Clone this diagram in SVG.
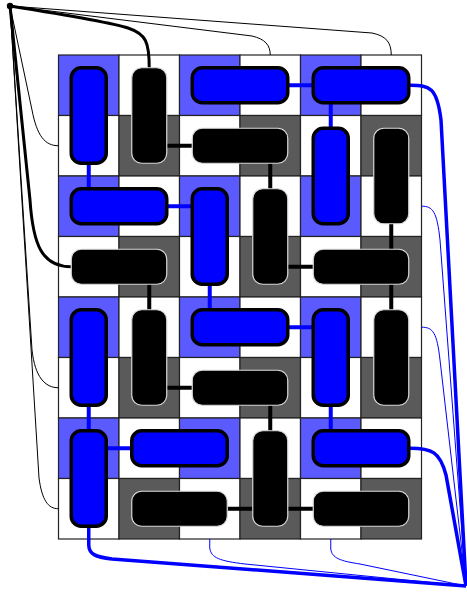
<svg xmlns="http://www.w3.org/2000/svg" width="467" height="592" viewBox="0 0 467 592">
<style>
.cb{fill:#5a5aff;stroke:#222;stroke-width:1.2}
.cw{fill:#fff;stroke:#222;stroke-width:1.2}
.cg{fill:#5a5a5a;stroke:#222;stroke-width:1.2}
.nb{fill:#0000ff;stroke:#000;stroke-width:3.5}
.nk{fill:#000;stroke:#d8d8d8;stroke-width:1.2}
.eb{stroke:#0000ff;stroke-width:4;fill:none}
.ek{stroke:#000;stroke-width:4;fill:none}
.lk{stroke:#000;stroke-width:3;fill:none}
.tk{stroke:#000;stroke-width:1;fill:none}
.lb{stroke:#0000ff;stroke-width:3.5;fill:none}
.tb{stroke:#0000ff;stroke-width:1;fill:none}
</style>
<rect width="467" height="592" fill="#fff"/>
<g id="grid">
<rect class="cb" x="58.5" y="55" width="60.5" height="60.5"/><rect class="cw" x="119" y="55" width="60.5" height="60.5"/><rect class="cb" x="179.5" y="55" width="60.5" height="60.5"/><rect class="cw" x="240" y="55" width="60.5" height="60.5"/><rect class="cb" x="300.5" y="55" width="60.5" height="60.5"/><rect class="cw" x="361" y="55" width="60.5" height="60.5"/>
<rect class="cw" x="58.5" y="115.5" width="60.5" height="60.5"/><rect class="cg" x="119" y="115.5" width="60.5" height="60.5"/><rect class="cw" x="179.5" y="115.5" width="60.5" height="60.5"/><rect class="cg" x="240" y="115.5" width="60.5" height="60.5"/><rect class="cw" x="300.5" y="115.5" width="60.5" height="60.5"/><rect class="cg" x="361" y="115.5" width="60.5" height="60.5"/>
<rect class="cb" x="58.5" y="176" width="60.5" height="60.5"/><rect class="cw" x="119" y="176" width="60.5" height="60.5"/><rect class="cb" x="179.5" y="176" width="60.5" height="60.5"/><rect class="cw" x="240" y="176" width="60.5" height="60.5"/><rect class="cb" x="300.5" y="176" width="60.5" height="60.5"/><rect class="cw" x="361" y="176" width="60.5" height="60.5"/>
<rect class="cw" x="58.5" y="236.5" width="60.5" height="60.5"/><rect class="cg" x="119" y="236.5" width="60.5" height="60.5"/><rect class="cw" x="179.5" y="236.5" width="60.5" height="60.5"/><rect class="cg" x="240" y="236.5" width="60.5" height="60.5"/><rect class="cw" x="300.5" y="236.5" width="60.5" height="60.5"/><rect class="cg" x="361" y="236.5" width="60.5" height="60.5"/>
<rect class="cb" x="58.5" y="297" width="60.5" height="60.5"/><rect class="cw" x="119" y="297" width="60.5" height="60.5"/><rect class="cb" x="179.5" y="297" width="60.5" height="60.5"/><rect class="cw" x="240" y="297" width="60.5" height="60.5"/><rect class="cb" x="300.5" y="297" width="60.5" height="60.5"/><rect class="cw" x="361" y="297" width="60.5" height="60.5"/>
<rect class="cw" x="58.5" y="357.5" width="60.5" height="60.5"/><rect class="cg" x="119" y="357.5" width="60.5" height="60.5"/><rect class="cw" x="179.5" y="357.5" width="60.5" height="60.5"/><rect class="cg" x="240" y="357.5" width="60.5" height="60.5"/><rect class="cw" x="300.5" y="357.5" width="60.5" height="60.5"/><rect class="cg" x="361" y="357.5" width="60.5" height="60.5"/>
<rect class="cb" x="58.5" y="418" width="60.5" height="60.5"/><rect class="cw" x="119" y="418" width="60.5" height="60.5"/><rect class="cb" x="179.5" y="418" width="60.5" height="60.5"/><rect class="cw" x="240" y="418" width="60.5" height="60.5"/><rect class="cb" x="300.5" y="418" width="60.5" height="60.5"/><rect class="cw" x="361" y="418" width="60.5" height="60.5"/>
<rect class="cw" x="58.5" y="478.5" width="60.5" height="60.5"/><rect class="cg" x="119" y="478.5" width="60.5" height="60.5"/><rect class="cw" x="179.5" y="478.5" width="60.5" height="60.5"/><rect class="cg" x="240" y="478.5" width="60.5" height="60.5"/><rect class="cw" x="300.5" y="478.5" width="60.5" height="60.5"/><rect class="cg" x="361" y="478.5" width="60.5" height="60.5"/>
</g>
<g id="connectors">
<path class="eb" d="M88.75,163 V189 M287.75,85.25 H313.25 M330.75,102.75 V128.25 M166.75,206.25 H192.25 M209.75,284.25 V309.75 M287.75,327.25 H313.25 M88.75,405.25 V430.75 M106.25,448.25 H131.75 M330.75,405.25 V430.75"/>
<path class="ek" d="M166.75,145.75 H192.25 M270.25,163.25 V188.75 M149.25,284.25 V309.75 M287.75,266.75 H313.25 M391.25,223.75 V249.25 M391.25,284.25 V309.75 M166.75,387.75 H192.25 M270.25,405.25 V430.75 M287.75,508.75 H313.25 M227.25,508.75 H252.75"/>
<path class="lk" d="M10,6 C60,14 110,22 128,28 C146,34 149.25,42 149.25,68"/>
<path class="lk" d="M10,6 L30,200 C33,245 42,266.75 71.25,266.75"/>
<path class="tk" d="M10,6 L32,110 C37,136 45,145.75 58.5,145.75"/>
<path class="tk" d="M10,6 L32,350 C35,377 45,387.75 58.5,387.75"/>
<path class="tk" d="M10,6 L39,478 C42,500 48,508.75 58.5,508.75"/>
<path class="tk" d="M10,6 L252,36 C265,39 270.25,45 270.25,55"/>
<path class="tk" d="M10,6 L372,33 C386,36 391.25,42 391.25,55"/>
<circle cx="10" cy="6" r="3.2" fill="#000"/>
<path class="lb" d="M408.75,85.25 C430,85 437,87 441,120 L466,586"/>
<path class="lb" d="M408.75,448.25 C432,448 440,452 446,475 L466,586"/>
<path class="lb" d="M88.75,526 V545 C89,554 95,557 112,559 L466,586"/>
<path class="tb" d="M421.5,206.25 C433,206 437,212 440,240 L466,586"/>
<path class="tb" d="M421.5,327.25 C433,327 437,333 440,360 L466,586"/>
<path class="tb" d="M209.75,539 V548 C211,558 220,561 245,564 L466,586"/>
<path class="tb" d="M330.75,539 V549 C332,558 340,561 360,564 L466,586"/>
</g>
<g id="B1"><rect class="nb" x="71.25" y="67.75" width="35" height="95.5" rx="10"/></g>
<g id="B2"><rect class="nb" x="192.25" y="67.75" width="95.5" height="35" rx="10"/></g>
<g id="B3"><rect class="nb" x="313.25" y="67.75" width="95.5" height="35" rx="10"/></g>
<g id="B4"><rect class="nb" x="313.25" y="128.25" width="35" height="95.5" rx="10"/></g>
<g id="B5"><rect class="nb" x="71.25" y="188.75" width="95.5" height="35" rx="10"/></g>
<g id="B6"><rect class="nb" x="192.25" y="188.75" width="35" height="95.5" rx="10"/></g>
<g id="B7"><rect class="nb" x="71.25" y="309.75" width="35" height="95.5" rx="10"/></g>
<g id="B8"><rect class="nb" x="192.25" y="309.75" width="95.5" height="35" rx="10"/></g>
<g id="B9"><rect class="nb" x="313.25" y="309.75" width="35" height="95.5" rx="10"/></g>
<g id="B10"><rect class="nb" x="71.25" y="430.75" width="35" height="95.5" rx="10"/></g>
<g id="B11"><rect class="nb" x="131.75" y="430.75" width="95.5" height="35" rx="10"/></g>
<g id="B12"><rect class="nb" x="313.25" y="430.75" width="95.5" height="35" rx="10"/></g>
<g id="K1"><rect class="nk" x="131.75" y="67.75" width="35" height="95.5" rx="10"/></g>
<g id="K2"><rect class="nk" x="192.25" y="128.25" width="95.5" height="35" rx="10"/></g>
<g id="K3"><rect class="nk" x="373.75" y="128.25" width="35" height="95.5" rx="10"/></g>
<g id="K4"><rect class="nk" x="252.75" y="188.75" width="35" height="95.5" rx="10"/></g>
<g id="K5"><rect class="nk" x="71.25" y="249.25" width="95.5" height="35" rx="10"/></g>
<g id="K6"><rect class="nk" x="313.25" y="249.25" width="95.5" height="35" rx="10"/></g>
<g id="K7"><rect class="nk" x="131.75" y="309.75" width="35" height="95.5" rx="10"/></g>
<g id="K8"><rect class="nk" x="373.75" y="309.75" width="35" height="95.5" rx="10"/></g>
<g id="K9"><rect class="nk" x="192.25" y="370.25" width="95.5" height="35" rx="10"/></g>
<g id="K10"><rect class="nk" x="252.75" y="430.75" width="35" height="95.5" rx="10"/></g>
<g id="K11"><rect class="nk" x="131.75" y="491.25" width="95.5" height="35" rx="10"/></g>
<g id="K12"><rect class="nk" x="313.25" y="491.25" width="95.5" height="35" rx="10"/></g>
</svg>
